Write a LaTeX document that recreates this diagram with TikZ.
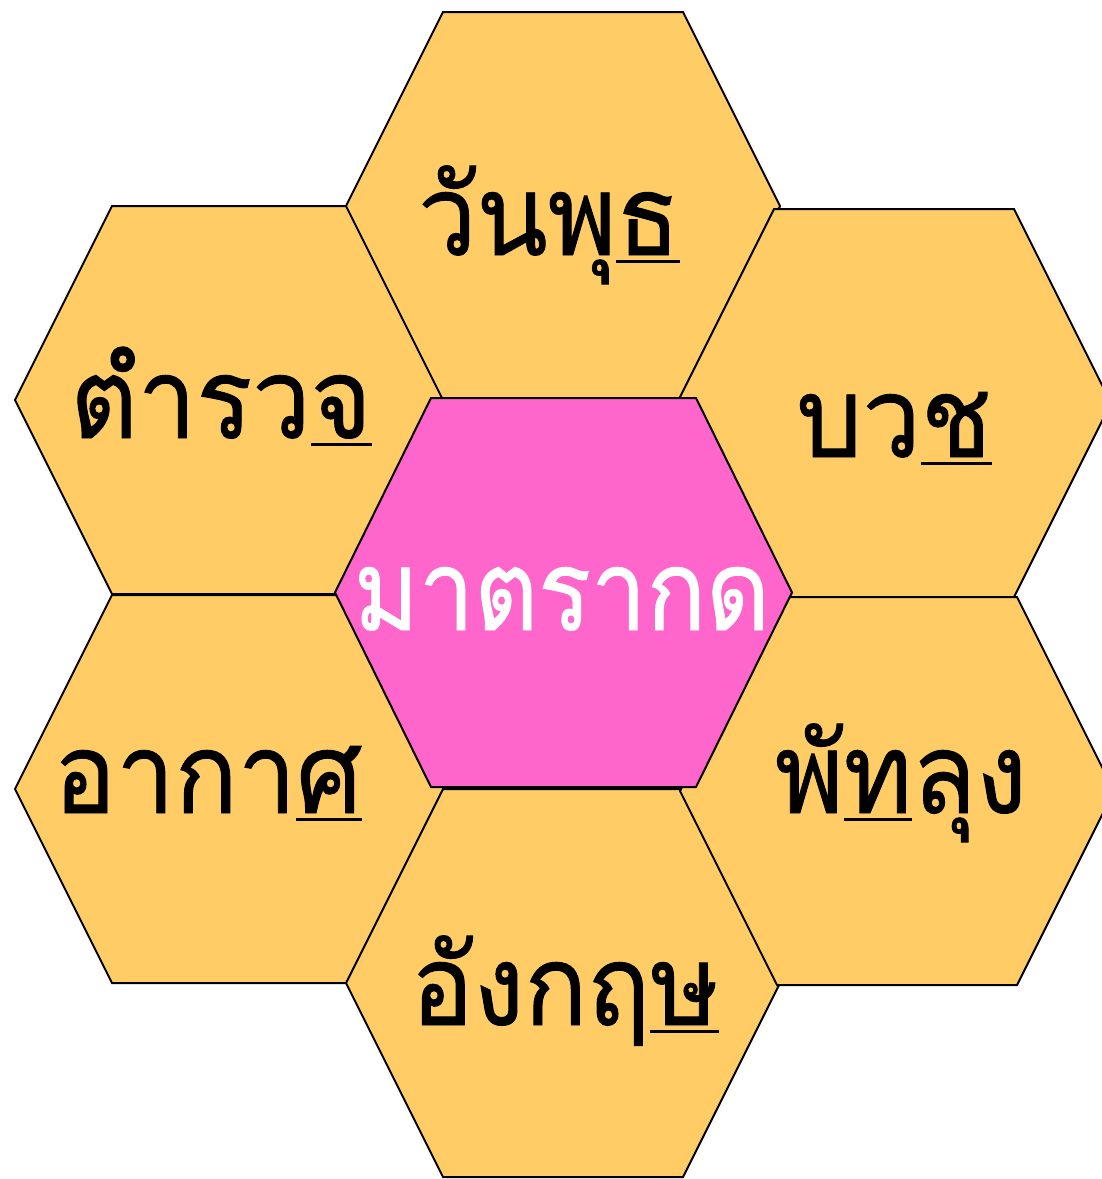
\documentclass[tikz,border=0pt]{standalone}
\usepackage{fontspec}
\newfontfamily\thaifont[Script=Thai, FakeStretch=0.93, FakeBold=0.8]{Loma}
\newfontfamily\thaicfont[Script=Thai, FakeStretch=0.88, FakeBold=0.8]{Loma}
\definecolor{hexorange}{HTML}{FFCC66}
\definecolor{hexpink}{HTML}{FF66CC}
\newcommand\ulchar[1]{\setbox0\hbox{#1}\rlap{\rule[-0.075em]{\wd0}{0.034em}}\box0}
\tikzset{
  hexo/.style={fill=hexorange, draw=black, line width=2pt, line join=miter},
  hexp/.style={fill=hexpink, draw=black, line width=2pt, line join=miter},
  lbl/.style={inner sep=0pt, anchor=base, font=\thaifont\fontsize{112}{120}\selectfont, text=black},
  clbl/.style={inner sep=0pt, anchor=base, font=\thaicfont\fontsize{112}{120}\selectfont, text=white}
}
\newcommand\orangehex[1]{\draw[hexo] (#1) ++(-217,0) -- ++(97,-194) -- ++(240,0) -- ++(97,194) -- ++(-97,194) -- ++(-240,0) -- cycle;}
\begin{document}
\begin{tikzpicture}[x=1pt, y=-1pt]
\useasboundingbox (0,0) rectangle (1102,1179);
\coordinate (h1) at (563,206);
\coordinate (h2) at (232,400);
\coordinate (h3) at (894,403);
\coordinate (h4) at (232,789);
\coordinate (h5) at (897,791);
\coordinate (h6) at (563,983);
\coordinate (hc) at (563.5,592.5);
\orangehex{h2}
\orangehex{h1}
\orangehex{h3}
\orangehex{h4}
\orangehex{h6}
\orangehex{h5}
\draw[hexp] (hc) ++(-228.5,0) -- ++(96,-194.5) -- ++(265,0) -- ++(96,194.5) -- ++(-96,194.5) -- ++(-265,0) -- cycle;
\node[lbl] (w1) at (549,255) {วันพุ\ulchar{ธ}};
\node[lbl] (w2) at (221,438) {ตำรว\ulchar{จ}};
\node[lbl] (w3) at (894,457) {บว\ulchar{ช}};
\node[lbl] (w4) at (208,813) {อากา\ulchar{ศ}};
\node[lbl] (w5) at (901,813) {พั\ulchar{ท}ลุง};
\node[lbl] (w6) at (565,1025) {อังกฤ\ulchar{ษ}};
\node[clbl] (wc) at (562,630) {มาตรากด};
\end{tikzpicture}
\end{document}
